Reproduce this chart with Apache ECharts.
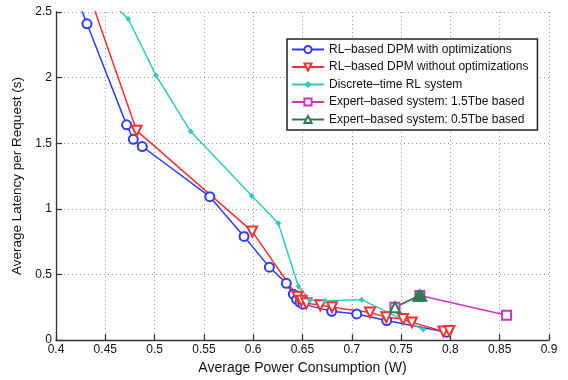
<!DOCTYPE html>
<html>
<head>
<meta charset="utf-8">
<script src="https://cdn.jsdelivr.net/npm/echarts@6/dist/echarts.min.js"></script>
<style>
html,body{margin:0;padding:0;background:#fff;}
#chart{width:568px;height:380px;}
</style>
</head>
<body>
<div id="chart"></div>
<script>
// ---- data ----
const xTicks = [0.4,0.45,0.5,0.55,0.6,0.65,0.7,0.75,0.8,0.85,0.9];
const yTicks = [0,0.5,1,1.5,2,2.5];

const names = [
  'RL\u2013based DPM with optimizations',
  'RL\u2013based DPM without optimizations',
  'Discrete\u2013time RL system',
  'Expert\u2013based system: 1.5Tbe based',
  'Expert\u2013based system: 0.5Tbe based'
];

const blueX = [0.4216,0.4314,0.4716,0.4784,0.4875,0.556,0.5907,0.6164,0.6336,0.6407,0.644,0.6475,0.6505,0.6796,0.705,0.7354,0.7962];
const blueY = [2.6,2.41,1.64,1.53,1.475,1.093,0.79,0.556,0.433,0.35,0.31,0.287,0.274,0.219,0.199,0.149,0.06];

const redX = [0.4352,0.4818,0.599,0.645,0.649,0.654,0.668,0.68,0.7185,0.735,0.752,0.761,0.793,0.799];
const redY = [2.6,1.596,0.828,0.33,0.30,0.28,0.265,0.25,0.21,0.175,0.16,0.135,0.065,0.07];

const cyanX = [0.452,0.4733,0.5014,0.5366,0.5985,0.6255,0.6458,0.6576,0.6728,0.71,0.7725];
const cyanY = [2.6,2.447,2.017,1.589,1.10,0.891,0.41,0.305,0.30,0.308,0.08];

const magX = [0.7438,0.769,0.857];
const magY = [0.25,0.34,0.19];

const greenX = [0.7438,0.767,0.769,0.771];
const greenY = [0.25,0.335,0.345,0.335];

function zip(xs, ys){ return xs.map((x,i)=>[x, ys[i]]); }

const BLUE='#2f3cff', RED='#ff2f2f', CYAN='#33c9c0', MAG='#cc33cc', GREEN='#2f7a55';
const FONT='"Liberation Sans", Arial, sans-serif';

const chart = echarts.init(document.getElementById('chart'));
chart.setOption({
  animation:false,
  backgroundColor:'#fff',
  grid:{left:56,right:19,top:12,bottom:37,containLabel:false},
  legend:{
    orient:'vertical',
    left:287, top:39,
    padding:[4,9,4,4],
    itemGap:4.5,
    itemWidth:32, itemHeight:9,
    borderColor:'#222', borderWidth:1.5,
    backgroundColor:'#fff',
    textStyle:{fontFamily:FONT,fontSize:12,color:'#111',lineHeight:13},
    data:names
  },
  xAxis:{
    type:'value', min:0.4, max:0.9, interval:0.05,
    axisLine:{onZero:false,lineStyle:{color:'#333',width:1.3}},
    axisTick:{inside:true,length:6,lineStyle:{color:'#333',width:1.3}},
    axisLabel:{fontFamily:FONT,fontSize:12,color:'#111',margin:4,
      formatter:v=>{const t=xTicks.find(k=>Math.abs(k-v)<1e-6);return t===undefined?'':String(t);}},
    splitLine:{show:true,lineStyle:{type:[1,3],color:'#999',width:1}},
    name:'Average Power Consumption (W)', nameLocation:'middle', nameGap:15,
    nameTextStyle:{fontFamily:FONT,fontSize:14,color:'#111'}
  },
  yAxis:{
    type:'value', min:0, max:2.5, interval:0.5,
    axisLine:{show:true,lineStyle:{color:'#333',width:1.3}},
    axisTick:{show:true,inside:true,length:6,lineStyle:{color:'#333',width:1.3}},
    axisLabel:{fontFamily:FONT,fontSize:12,color:'#111',margin:4,
      formatter:v=>{const t=yTicks.find(k=>Math.abs(k-v)<1e-6);return t===undefined?'':String(t);}},
    splitLine:{show:true,lineStyle:{type:[1,3],color:'#999',width:1}},
    name:'Average Latency per Request (s)', nameLocation:'middle', nameGap:28,
    nameTextStyle:{fontFamily:FONT,fontSize:13.5,color:'#111'}
  },
  series:[
    {name:names[0],type:'line',clip:true,data:zip(blueX,blueY),
     symbol:'emptyCircle',symbolSize:9,
     lineStyle:{color:BLUE,width:1.5},itemStyle:{color:BLUE,borderColor:BLUE,borderWidth:1.3}},
    {name:names[1],type:'line',clip:true,data:zip(redX,redY),
     symbol:'emptyTriangle',symbolSize:10,symbolRotate:180,
     lineStyle:{color:RED,width:1.5},itemStyle:{color:RED,borderColor:RED,borderWidth:1.3}},
    {name:names[2],type:'line',clip:true,data:zip(cyanX,cyanY),
     symbol:'diamond',symbolSize:6,
     lineStyle:{color:CYAN,width:1.5},itemStyle:{color:CYAN}},
    {name:names[3],type:'line',clip:true,data:zip(magX,magY),
     symbol:'emptyRect',symbolSize:9,
     lineStyle:{color:MAG,width:1.5},itemStyle:{color:MAG,borderColor:MAG,borderWidth:1.3}},
    {name:names[4],type:'line',clip:true,
     data:zip(greenX,greenY).map((p,i)=>i===0?{value:p}:{value:p,symbol:'triangle'}),
     symbol:'emptyTriangle',symbolSize:10,
     lineStyle:{color:GREEN,width:1.5},itemStyle:{color:GREEN,borderColor:GREEN,borderWidth:1.3}}
  ]
});
</script>
</body>
</html>
